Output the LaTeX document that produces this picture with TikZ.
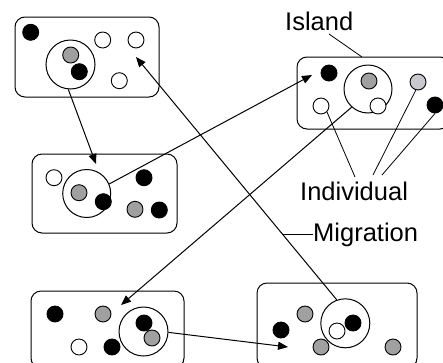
\documentclass[tikz,border=0pt]{standalone}
\usepackage{fontspec}
\setmainfont{Liberation Sans}
\usetikzlibrary{arrows.meta}
\definecolor{dgray}{HTML}{A0A0A0}
\definecolor{lgray}{HTML}{C8C8CE}
\tikzset{
  island/.style={draw, line width=1pt, rounded corners=10pt, inner sep=0pt},
  big/.style={draw, circle, line width=1pt, inner sep=0pt, fill=white},
  ind/.style={draw, circle, line width=0.9pt, inner sep=0pt, minimum size=16pt},
  blk/.style={ind, fill=black},
  gry/.style={ind, fill=dgray},
  lgr/.style={ind, fill=lgray},
  wht/.style={ind, fill=white},
  migr/.style={line width=1pt, -{Triangle[length=10pt,width=8pt]}},
  ptr/.style={line width=0.8pt},
  lbl/.style={inner sep=0pt, anchor=base west, font=\fontsize{25.5}{30}\selectfont}
}
\begin{document}
\begin{tikzpicture}[x=1pt,y=-1pt]
\useasboundingbox (0,0) rectangle (443,362);
\clip (0,0) rectangle (443,362);

% Islands
\node[island, minimum width=144pt, minimum height=80pt] (i1) at (87,57) {};
\node[island, minimum width=153pt, minimum height=72pt] (i2) at (373.5,93) {};
\node[island, minimum width=145pt, minimum height=79pt] (i3) at (104.5,193.5) {};
\node[island, minimum width=153pt, minimum height=77pt] (i4) at (107.5,329.5) {};
\node[island, minimum width=160pt, minimum height=85pt] (i5) at (337,325.5) {};

% Island 1
\node[blk] (a1) at (30.7,32.3) {};
\node[big, minimum size=49pt] (a2) at (70.5,64.5) {};
\node[gry] (a3) at (70.7,55) {};
\node[blk] (a4) at (79.3,71.7) {};
\node[wht] (a5) at (102.7,40) {};
\node[wht] (a6) at (136,40) {};
\node[wht] (a7) at (119.3,80.7) {};

% Island 2
\node[blk] (b1) at (329,73) {};
\node[big, minimum size=48pt] (b2) at (368,89) {};
\node[gry] (b3) at (369,81) {};
\node[wht] (b4) at (378,106) {};
\node[wht] (b5) at (321,106) {};
\node[lgr] (b6) at (418,82) {};
\node[blk] (b7) at (435,105) {};

% Island 3
\node[wht] (c1) at (54,177.7) {};
\node[big, minimum size=48pt] (c2) at (86.7,193.5) {};
\node[gry] (c3) at (79,192.7) {};
\node[blk] (c4) at (103.3,201.7) {};
\node[blk] (c5) at (144,177.7) {};
\node[gry] (c6) at (135,209.3) {};
\node[blk] (c7) at (159.3,210) {};

% Island 4
\node[blk] (d1) at (55,314) {};
\node[gry] (d2) at (103,314) {};
\node[wht] (d3) at (79,347) {};
\node[blk] (d4) at (112,347) {};
\node[big, minimum size=49pt] (d5) at (143.5,331.5) {};
\node[blk] (d6) at (144,323) {};
\node[gry] (d7) at (152,338) {};

% Island 5
\node[gry] (e1) at (305,314) {};
\node[blk] (e2) at (281,330) {};
\node[gry] (e3) at (321,347) {};
\node[big, minimum size=49pt] (e4) at (345.3,323.3) {};
\node[blk] (e5) at (353,323) {};
\node[wht] (e6) at (337,331) {};
\node[gry] (e7) at (393,347) {};

% Arrow tips (free ends)
\coordinate (t1) at (96,164);
\coordinate (t2) at (312,75);
\coordinate (t3) at (121,305);
\coordinate (t4) at (288,347);
\coordinate (t5) at (136,57);

% Migrations
\draw[migr] (a2.-95) -- (t1);
\draw[migr] (c2.23) -- (t2);
\draw[migr] (b2.-132) -- (t3);
\draw[migr] (d5.-2) -- (t4);
\draw[migr] (e4.110) -- coordinate[pos=0.27] (mp) (t5);

% Labels
\node[lbl] (lIsland) at (285,30) {Island};
\node[lbl] (lInd) at (300,200) {Individual};
\node[lbl] (lMig) at (313,241.5) {Migration};

\coordinate (pI) at (329,34);
\coordinate (pIe) at (362,57);
\coordinate (q1) at (355,177);
\coordinate (q2) at (373,175);
\coordinate (q3) at (382,175);

\draw[ptr] (pI) -- (pIe);
\draw[ptr] (b5.-45) -- (q1);
\draw[ptr] (b6.-105) -- (q2);
\draw[ptr] (b7.-90) -- (q3);
\draw[ptr] (mp) -- (mp -| lMig.west);
\end{tikzpicture}
\end{document}
